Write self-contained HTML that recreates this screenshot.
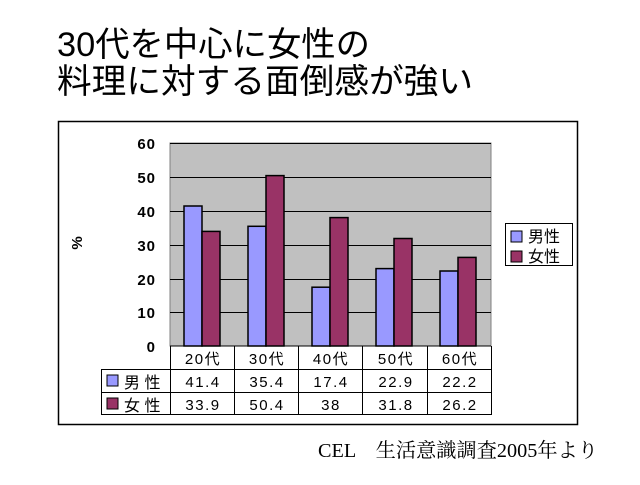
<!DOCTYPE html>
<html><head><meta charset="utf-8"><style>
body{margin:0;background:#fff;width:640px;height:480px;overflow:hidden}
</style></head><body>
<svg width="640" height="480" xmlns="http://www.w3.org/2000/svg" font-family="Liberation Sans, Noto Sans CJK JP, sans-serif">
<text x="57" y="56" font-size="34" fill="#000" textLength="313" lengthAdjust="spacingAndGlyphs">30代を中心に女性の</text>
<text x="57" y="93" font-size="34" fill="#000" textLength="416" lengthAdjust="spacingAndGlyphs">料理に対する面倒感が強い</text>
<rect x="58.5" y="121.5" width="519" height="303" fill="#fff" stroke="#000" stroke-width="1.5"/>
<rect x="170" y="143" width="321" height="203" fill="#c0c0c0" stroke="#808080"/>
<g stroke="#000" stroke-width="1">
<line x1="170" y1="143.5" x2="491" y2="143.5"/>
<line x1="170" y1="177.5" x2="491" y2="177.5"/>
<line x1="170" y1="211.5" x2="491" y2="211.5"/>
<line x1="170" y1="245.5" x2="491" y2="245.5"/>
<line x1="170" y1="279.5" x2="491" y2="279.5"/>
<line x1="170" y1="312.5" x2="491" y2="312.5"/>
</g>
<g font-size="15" text-anchor="end" fill="#000" font-weight="bold" letter-spacing="1">
<text x="156" y="149">60</text><text x="156" y="183">50</text><text x="156" y="217">40</text>
<text x="156" y="251">30</text><text x="156" y="285">20</text><text x="156" y="318">10</text><text x="156" y="352">0</text>
</g>
<text x="0" y="0" font-size="15" font-weight="bold" transform="translate(82,243) rotate(-90)" text-anchor="middle">%</text>
<g stroke="#000" stroke-width="1.5">
<rect x="184" y="206" width="18" height="140" fill="#9999ff"/>
<rect x="202" y="231.4" width="18" height="114.6" fill="#993366"/>
<rect x="248" y="226.3" width="18" height="119.7" fill="#9999ff"/>
<rect x="266" y="175.6" width="18" height="170.4" fill="#993366"/>
<rect x="312" y="287.2" width="18" height="58.8" fill="#9999ff"/>
<rect x="330" y="217.6" width="18" height="128.4" fill="#993366"/>
<rect x="376" y="268.6" width="18" height="77.4" fill="#9999ff"/>
<rect x="394" y="238.5" width="18" height="107.5" fill="#993366"/>
<rect x="440" y="271" width="18" height="75" fill="#9999ff"/>
<rect x="458" y="257.4" width="18" height="88.6" fill="#993366"/>
</g>
<g stroke="#000" stroke-width="1" fill="none">
<line x1="170" y1="346" x2="491" y2="346"/>
<line x1="101" y1="369.5" x2="491" y2="369.5"/>
<line x1="101" y1="392.5" x2="491" y2="392.5"/>
<line x1="101" y1="414.5" x2="491" y2="414.5"/>
<line x1="101.5" y1="369" x2="101.5" y2="415"/>
<line x1="170.5" y1="346" x2="170.5" y2="415"/>
<line x1="234.5" y1="346" x2="234.5" y2="415"/>
<line x1="298.5" y1="346" x2="298.5" y2="415"/>
<line x1="362.5" y1="346" x2="362.5" y2="415"/>
<line x1="427.5" y1="346" x2="427.5" y2="415"/>
<line x1="491.5" y1="346" x2="491.5" y2="415"/>
</g>
<g font-size="15" text-anchor="middle" fill="#000" letter-spacing="1.5">
<text x="203" y="364">20代</text><text x="267" y="364">30代</text><text x="331" y="364">40代</text><text x="396" y="364">50代</text><text x="460" y="364">60代</text>
<text x="203" y="387">41.4</text><text x="267" y="387">35.4</text><text x="331" y="387">17.4</text><text x="396" y="387">22.9</text><text x="460" y="387">22.2</text>
<text x="203" y="410">33.9</text><text x="267" y="410">50.4</text><text x="331" y="410">38</text><text x="396" y="410">31.8</text><text x="460" y="410">26.2</text>
</g>
<rect x="107" y="375" width="11" height="11" fill="#9999ff" stroke="#000"/>
<rect x="107" y="398" width="11" height="11" fill="#993366" stroke="#000"/>
<text x="124" y="388" font-size="16">男 性</text>
<text x="124" y="411" font-size="16">女 性</text>
<rect x="505.5" y="223.5" width="67" height="42" fill="#fff" stroke="#000"/>
<rect x="511" y="231" width="11" height="11" fill="#9999ff" stroke="#000"/>
<rect x="511" y="251" width="11" height="11" fill="#993366" stroke="#000"/>
<text x="528" y="242" font-size="16">男性</text>
<text x="528" y="262" font-size="16">女性</text>
<text x="318" y="457" font-size="20" font-family="Liberation Serif, Noto Serif CJK SC, serif" textLength="280" lengthAdjust="spacingAndGlyphs">CEL　生活意識調査2005年より</text>
</svg>
</body></html>
